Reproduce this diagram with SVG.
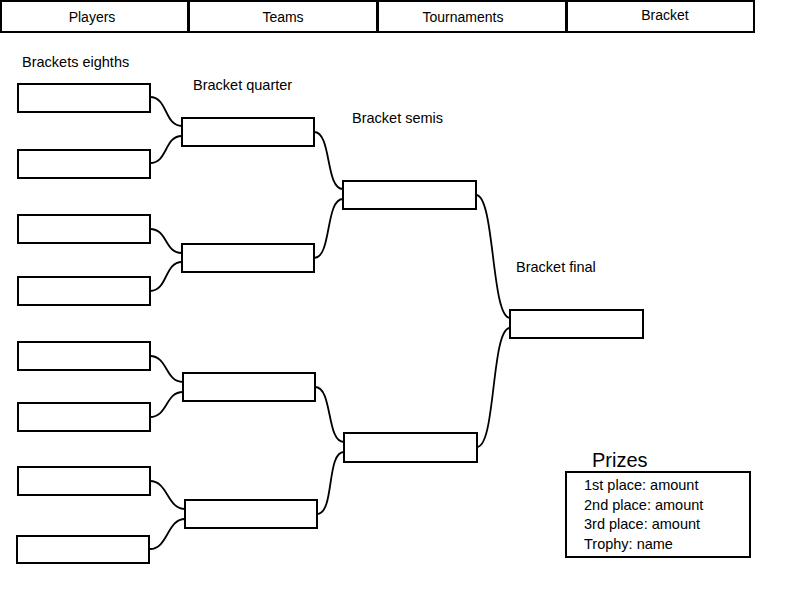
<svg xmlns="http://www.w3.org/2000/svg" width="800" height="600" viewBox="0 0 800 600">
<style>
.tab{fill:#fff;stroke:#000;stroke-width:2}
.box{fill:#fff;stroke:#000;stroke-width:2}
.lbl{font-family:"Liberation Sans",Arial,sans-serif;font-size:14.5px;fill:#000}
.tabt{font-family:"Liberation Sans",Arial,sans-serif;font-size:14px;fill:#000;text-anchor:middle}
.pt{font-family:"Liberation Sans",Arial,sans-serif;font-size:14.5px;fill:#000}
.con{fill:none;stroke:#000;stroke-width:1.8}
</style>
<rect width="800" height="600" fill="#fff"/>
<g id="tabs">
<g id="tab-players"><rect class="tab" x="1" y="1" width="187" height="31"/><text class="tabt" x="92" y="22">Players</text></g>
<g id="tab-teams"><rect class="tab" x="189" y="1" width="188" height="31"/><text class="tabt" x="283" y="22">Teams</text></g>
<g id="tab-tournaments"><rect class="tab" x="378" y="1" width="188" height="31"/><text class="tabt" x="463" y="22">Tournaments</text></g>
<g id="tab-bracket"><rect class="tab" x="567" y="1" width="187" height="31"/><text class="tabt" x="665" y="20">Bracket</text></g>
</g>
<g id="labels">
<text class="lbl" x="22" y="67">Brackets eighths</text>
<text class="lbl" x="193" y="90">Bracket quarter</text>
<text class="lbl" x="352" y="123">Bracket semis</text>
<text class="lbl" x="516" y="272">Bracket final</text>
</g>
<g id="connectors">
<path class="con" d="M150,97 C168,97 164,126 182,126"/>
<path class="con" d="M150,163 C168,163 164,136 182,136"/>
<path class="con" d="M150,229 C168,229 164,253 182,253"/>
<path class="con" d="M150,291 C168,291 164,262 182,262"/>
<path class="con" d="M150,356 C168,356 165,382 183,382"/>
<path class="con" d="M150,417 C168,417 165,392 183,392"/>
<path class="con" d="M150,481 C168,481 167,509 185,509"/>
<path class="con" d="M150,549 C168,549 167,519 185,519"/>
<path class="con" d="M314,132 C332,132 325,189 343,189"/>
<path class="con" d="M314,258 C332,258 325,199 343,199"/>
<path class="con" d="M315,387 C333,387 326,442 344,442"/>
<path class="con" d="M317,514 C335,514 326,452 344,452"/>
<path class="con" d="M476,195 C495,195 491,318 510,318"/>
<path class="con" d="M477,447 C496,447 491,328 510,328"/>
</g>
<g id="eighths">
<g id="e1"><rect class="box" x="18" y="84" width="132" height="28"/></g>
<g id="e2"><rect class="box" x="18" y="150" width="132" height="28"/></g>
<g id="e3"><rect class="box" x="18" y="215" width="132" height="28"/></g>
<g id="e4"><rect class="box" x="18" y="277" width="132" height="28"/></g>
<g id="e5"><rect class="box" x="18" y="342" width="132" height="28"/></g>
<g id="e6"><rect class="box" x="18" y="403" width="132" height="28"/></g>
<g id="e7"><rect class="box" x="18" y="467" width="132" height="28"/></g>
<g id="e8"><rect class="box" x="17" y="536" width="132" height="27"/></g>
</g>
<g id="quarters">
<g id="q1"><rect class="box" x="182" y="118" width="132" height="28"/></g>
<g id="q2"><rect class="box" x="182" y="244" width="132" height="28"/></g>
<g id="q3"><rect class="box" x="183" y="373" width="132" height="28"/></g>
<g id="q4"><rect class="box" x="185" y="500" width="132" height="28"/></g>
</g>
<g id="semis">
<g id="s1"><rect class="box" x="343" y="181" width="133" height="28"/></g>
<g id="s2"><rect class="box" x="344" y="433" width="133" height="29"/></g>
</g>
<g id="final"><rect class="box" x="510" y="310" width="133" height="28"/></g>
<g id="prizes">
<text x="592" y="467" style="font-family:'Liberation Sans',Arial,sans-serif;font-size:20px">Prizes</text>
<rect class="box" x="566" y="472" width="184" height="85"/>
<text class="pt" x="584" y="490">1st place: amount</text>
<text class="pt" x="584" y="510">2nd place: amount</text>
<text class="pt" x="584" y="529">3rd place: amount</text>
<text class="pt" x="584" y="549">Trophy: name</text>
</g>
</svg>
